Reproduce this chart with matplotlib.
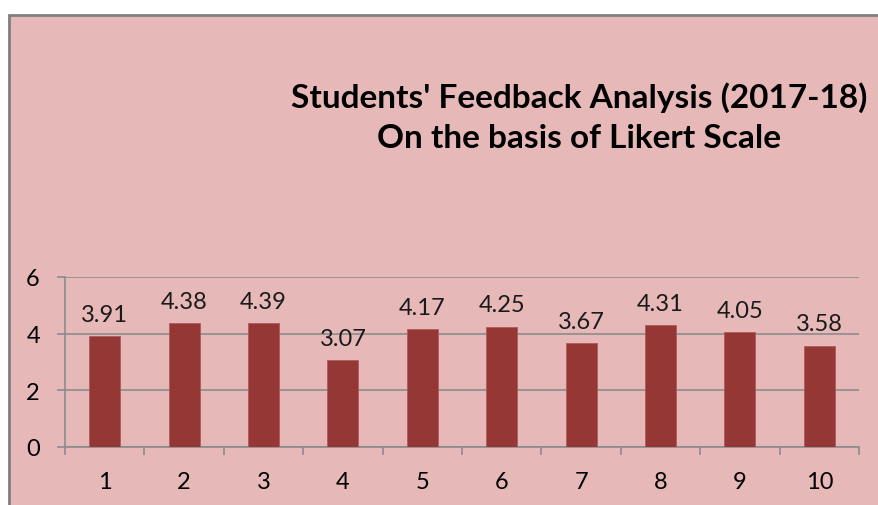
import matplotlib.pyplot as plt
from matplotlib.patches import Rectangle

# data
questions = [1, 2, 3, 4, 5, 6, 7, 8, 9, 10]
scores = [3.91, 4.38, 4.39, 3.07, 4.17, 4.25, 3.67, 4.31, 4.05, 3.58]
yticks = [0, 2, 4, 6]

bg = '#E6B9B8'
bar_color = '#953735'
grid_color = '#8C8C8C'

plt.rcParams['font.family'] = ['Lato', 'DejaVu Sans']

fig = plt.figure(figsize=(8.79, 5.06), dpi=100)
fig.patch.set_facecolor('white')

# chart area box
box = Rectangle((9 / 879, -0.01), 1.0, 1 - 16 / 506 + 0.01, transform=fig.transFigure,
                facecolor=bg, edgecolor='#7F7F7F', linewidth=2, zorder=-10)
fig.patches.append(box)

ax = fig.add_axes([65 / 879, 1 - 448 / 506, (859 - 65) / 879, (448 - 278) / 506])
ax.set_zorder(1)
ax.patch.set_alpha(0)

ax.bar(questions, scores, width=0.39, color=bar_color, edgecolor='#B05A58',
       linewidth=0.6, zorder=3)

for x, v in zip(questions, scores):
    ax.annotate(f'{v:.2f}', (x, v), xytext=(0, 8), textcoords='offset points',
                ha='center', va='bottom', fontsize=17, color='#1a1a1a')

ax.set_xlim(0.5, 10.5)
ax.set_ylim(0, 6)
ax.set_yticks(yticks)
ax.yaxis.grid(True, color=grid_color, linewidth=1.2, zorder=0)
ax.set_axisbelow(True)

# category boundary ticks on x axis
ax.set_xticks([i + 0.5 for i in range(0, 11)], minor=False)
ax.set_xticklabels([])
ax.set_xticks(questions, minor=True)
ax.set_xticklabels([str(q) for q in questions], minor=True)
ax.tick_params(axis='x', which='major', length=6, color=grid_color, width=1.2)
ax.tick_params(axis='x', which='minor', length=0, labelsize=17, pad=17)
ax.tick_params(axis='y', length=6, color=grid_color, width=1.2, labelsize=17, pad=12)

for side in ['top', 'right']:
    ax.spines[side].set_visible(False)
ax.spines['left'].set_color(grid_color)
ax.spines['left'].set_linewidth(1.2)
ax.spines['bottom'].set_color(grid_color)
ax.spines['bottom'].set_linewidth(1.2)

fig.text(579 / 879, 1 - 118 / 506,
         "Students' Feedback Analysis (2017-18)\nOn the basis of Likert Scale",
         ha='center', va='center', fontsize=24, fontweight='bold',
         linespacing=1.45, color='black')

plt.savefig('out.png', dpi=100, facecolor='white')
